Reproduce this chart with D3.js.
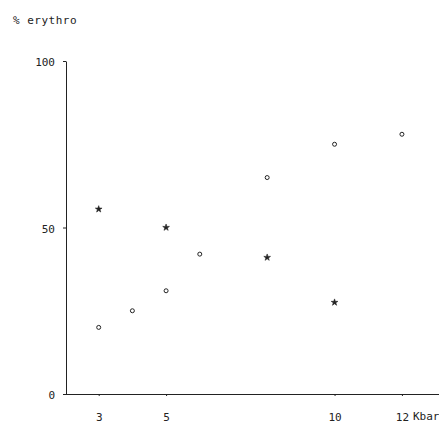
<!DOCTYPE html>
<html>
<head>
<meta charset="utf-8">
<script src="https://cdn.jsdelivr.net/npm/d3@7"></script>
<style>
  body { margin: 0; background: #fff; }
  text { font-family: "DejaVu Sans Mono", monospace; fill: #222; }
</style>
</head>
<body>
<svg id="chart" width="439" height="424"></svg>
<script>
// pressure (Kbar) vs % erythro
const circlePressure = [3, 4, 5, 6, 8, 10, 12];
const circleErythro  = [20, 25, 31, 42, 65, 75, 78];
const starPressure   = [3, 5, 8, 10];
const starErythro    = [55.5, 50, 41, 27.5];
const xTicks = [3, 5, 10, 12];
const yTicks = [0, 50, 100];

const svg = d3.select("#chart");

const x = d3.scaleLinear().domain([2, 13.1]).range([65, 439]);
const y = d3.scaleLinear().domain([0, 100]).range([394, 61]);

// y axis
const yAxis = svg.append("g")
  .attr("transform", "translate(66,0)")
  .attr("color", "#222")
  .call(d3.axisLeft(y).tickValues(yTicks).tickSize(3).tickSizeOuter(0).tickPadding(8));

// x axis
const xAxis = svg.append("g")
  .attr("transform", "translate(0,394)")
  .attr("color", "#222")
  .call(d3.axisBottom(x).tickValues(xTicks).tickSize(2).tickSizeOuter(0).tickPadding(17));

svg.selectAll(".domain, .tick line")
  .attr("stroke-width", 1);
svg.selectAll(".tick text")
  .style("font-family", "DejaVu Sans Mono, monospace")
  .style("font-size", "11px");
yAxis.selectAll(".tick text").attr("dy", "0.45em");

// axis titles
svg.append("text")
  .attr("x", 13)
  .attr("y", 24)
  .style("font-size", "11px")
  .style("letter-spacing", "0.5px")
  .text("% erythro");

svg.append("text")
  .attr("x", x(12) + 11)
  .attr("y", 420)
  .style("font-size", "11px")
  .text("Kbar");

// circles
svg.append("g").selectAll("circle")
  .data(circlePressure.map((p, i) => [p, circleErythro[i]]))
  .join("circle")
    .attr("cx", d => x(d[0]))
    .attr("cy", d => y(d[1]))
    .attr("r", 2)
    .attr("fill", "none")
    .attr("stroke", "#222")
    .attr("stroke-width", 1);

// stars
svg.append("g").selectAll("path")
  .data(starPressure.map((p, i) => [p, starErythro[i]]))
  .join("path")
    .attr("transform", d => `translate(${x(d[0])},${y(d[1])})`)
    .attr("d", d3.symbol(d3.symbolStar, 14))
    .attr("fill", "#222")
    .attr("stroke", "#222")
    .attr("stroke-width", 0.6);
</script>
</body>
</html>
